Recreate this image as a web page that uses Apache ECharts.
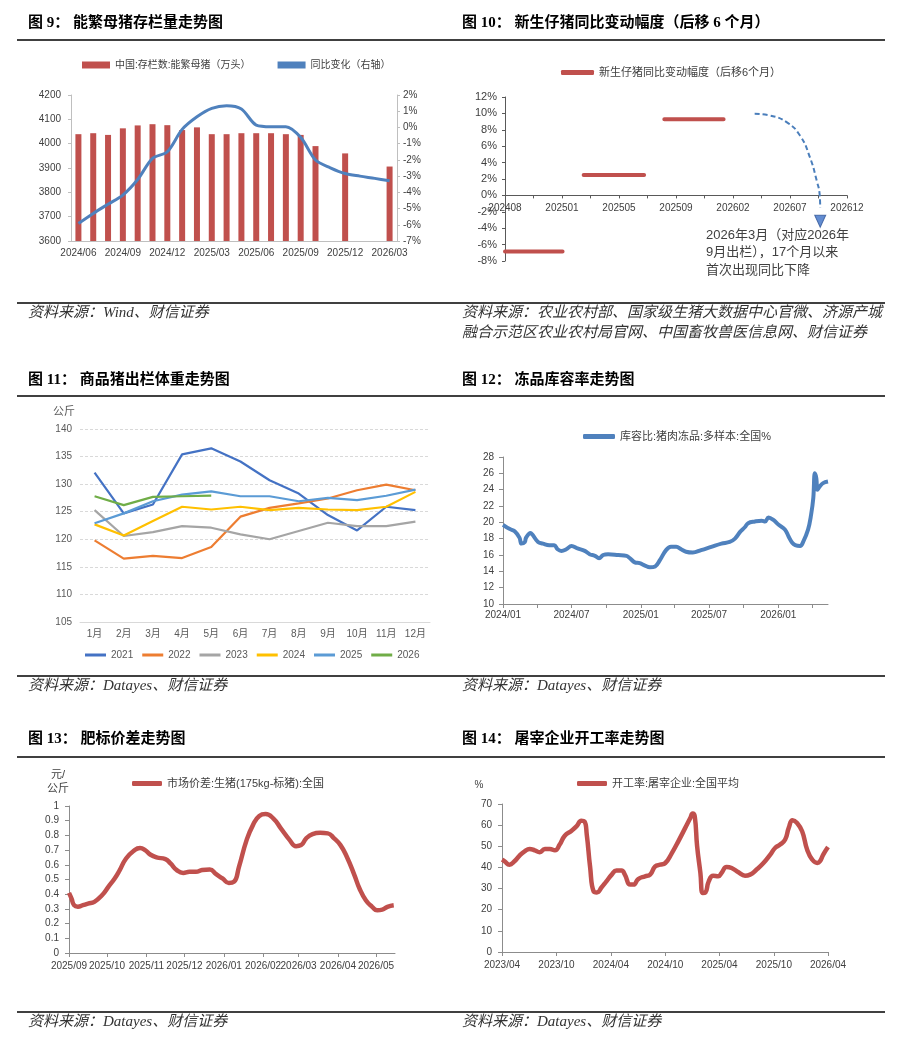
<!DOCTYPE html>
<html><head><meta charset="utf-8">
<script src="https://cdn.jsdelivr.net/npm/echarts@6/dist/echarts.min.js"></script>
<style>html,body{margin:0;padding:0;background:#fff}#c{width:903px;height:1050px}</style>
</head><body><div id="c"></div>
<script>
// ---------------- DATA ----------------
// Fig 9
const p9Months = ['2024/06','2024/07','2024/08','2024/09','2024/10','2024/11','2024/12','2025/01','2025/02','2025/03','2025/04','2025/05','2025/06','2025/07','2025/08','2025/09','2025/10','2025/11','2025/12','2026/01','2026/02','2026/03'];
const p9Sows = [4039,4043,4036,4063,4075,4080,4076,4056,4067,4039,4039,4043,4043,4043,4039,4036,3990,null,3960,null,null,3906];
const p9Yoy = [-5.92,-5.30,-4.73,-4.17,-3.21,-1.91,-1.50,-0.12,0.66,1.18,1.34,1.14,0.15,0.05,0.05,-0.61,-2.01,-2.49,-2.84,-3.00,-3.14,-3.29];
const p9Names = ['中国:存栏数:能繁母猪（万头）','同比变化（右轴）'];
// Fig 10
const p10TickLabels = ['202408','202501','202505','202509','202602','202607','202612'];
const p10SegStart = [0, 2.76, 5.59];
const p10SegEnd = [2.02, 4.88, 7.67];
const p10SegValue = [-6.85, 2.5, 9.3];
const p10ArcX = [8.76, 9.29, 9.88, 10.35, 10.7, 10.94, 11.04, 11.06];
const p10ArcY = [9.95, 9.75, 8.93, 7.3, 4.63, 1.76, 0.12, -1.52];
const p10Marker = [11.06, -3.15];
const p10Name = '新生仔猪同比变动幅度（后移6个月）';
const p10Note = ['2026年3月（对应2026年','9月出栏），17个月以来','首次出现同比下降'];
// Fig 11
const p11Months = ['1月','2月','3月','4月','5月','6月','7月','8月','9月','10月','11月','12月'];
const p11Years = ['2021','2022','2023','2024','2025','2026'];
const w2021 = [132.1,124.7,126.3,135.4,136.5,134.1,130.7,128.3,124.4,121.6,125.9,125.3];
const w2022 = [119.8,116.5,117.0,116.6,118.6,124.1,125.7,126.5,127.4,128.9,129.9,128.9];
const w2023 = [125.3,120.6,121.3,122.4,122.1,120.9,120.0,121.5,123.0,122.4,122.4,123.2];
const w2024 = [122.7,120.7,123.3,125.9,125.4,125.9,125.3,125.7,125.4,125.3,125.9,128.6];
const w2025 = [122.9,124.7,126.9,128.1,128.7,127.8,127.8,126.9,127.5,127.1,127.9,129.0];
const w2026 = [127.8,126.2,127.7,127.8,127.9];
// Fig 12
const p12Dates = ['2024-01-01','2024-01-18','2024-02-01','2024-02-14','2024-02-19','2024-02-28','2024-03-02','2024-03-14','2024-03-19','2024-04-03','2024-04-16','2024-05-03','2024-05-16','2024-05-25','2024-06-04','2024-06-17','2024-07-01','2024-07-17','2024-08-05','2024-08-18','2024-09-01','2024-09-12','2024-09-23','2024-10-06','2024-11-02','2024-11-24','2024-12-03','2024-12-16','2024-12-29','2025-01-12','2025-01-25','2025-02-08','2025-02-21','2025-03-09','2025-03-22','2025-04-05','2025-04-18','2025-05-01','2025-05-19','2025-06-10','2025-07-07','2025-08-03','2025-08-25','2025-09-08','2025-09-21','2025-10-04','2025-10-13','2025-10-31','2025-11-18','2025-11-27','2025-12-06','2025-12-19','2026-01-02','2026-01-19','2026-01-28','2026-02-07','2026-02-15','2026-02-28','2026-03-08','2026-03-21','2026-03-29','2026-04-04','2026-04-08','2026-04-12','2026-04-15','2026-04-21','2026-04-30','2026-05-13'];
const p12Values = [19.7,19.2,18.9,18.1,17.4,17.6,18.1,18.7,18.5,17.6,17.4,17.2,17.2,16.7,16.5,16.7,17.1,16.8,16.5,16.1,15.9,15.6,16.0,16.1,16.0,15.9,15.6,15.1,15.0,14.7,14.5,14.6,15.4,16.6,17.0,17.0,16.7,16.4,16.3,16.6,17.0,17.4,17.6,18.0,18.8,19.4,19.9,20.1,20.2,20.1,20.6,20.3,19.7,19.1,18.3,17.5,17.2,17.1,17.6,19.1,20.9,23.0,26.0,25.4,24.0,24.4,24.8,25.0];
const p12Name = '库容比:猪肉冻品:多样本:全国%';
const p12Labels = ['2024-01-01','2024-07-01','2025-01-01','2025-07-01','2026-01-01'];
const p12Ticks = ['2024-01-01','2024-04-01','2024-07-01','2024-10-01','2025-01-01','2025-04-01','2025-07-01','2025-10-01','2026-01-01','2026-04-01'];
// Fig 13
const p13Dates = ['2025-09-01','2025-09-03','2025-09-05','2025-09-08','2025-09-12','2025-09-16','2025-09-21','2025-09-27','2025-10-02','2025-10-07','2025-10-11','2025-10-16','2025-10-22','2025-10-27','2025-10-31','2025-11-04','2025-11-09','2025-11-16','2025-11-20','2025-11-25','2025-11-30','2025-12-05','2025-12-10','2025-12-15','2025-12-21','2025-12-26','2025-12-31','2026-01-05','2026-01-09','2026-01-13','2026-01-19','2026-01-24','2026-01-29','2026-02-03','2026-02-09','2026-02-15','2026-02-22','2026-02-27','2026-03-03','2026-03-07','2026-03-12','2026-03-18','2026-03-24','2026-03-29','2026-04-03','2026-04-08','2026-04-14','2026-04-18','2026-04-23','2026-04-28','2026-05-02','2026-05-06','2026-05-10','2026-05-15'];
const p13Values = [0.409,0.37,0.325,0.314,0.325,0.336,0.348,0.393,0.45,0.507,0.564,0.643,0.695,0.714,0.70,0.67,0.65,0.639,0.609,0.564,0.545,0.552,0.552,0.564,0.568,0.536,0.507,0.477,0.484,0.586,0.768,0.87,0.932,0.945,0.916,0.848,0.768,0.727,0.734,0.78,0.809,0.818,0.814,0.78,0.734,0.655,0.53,0.439,0.359,0.314,0.291,0.295,0.314,0.325];
const p13Name = '市场价差:生猪(175kg-标猪):全国';
const p13Ticks = ['2025-09-01','2025-10-01','2025-11-01','2025-12-01','2026-01-01','2026-02-01','2026-03-01','2026-04-01','2026-05-01'];
// Fig 14
const p14Dates = ['2023-04-01','2023-04-10','2023-04-26','2023-05-13','2023-05-30','2023-06-16','2023-07-03','2023-07-20','2023-08-06','2023-08-23','2023-09-09','2023-09-26','2023-10-12','2023-10-29','2023-11-21','2023-12-08','2023-12-24','2024-01-03','2024-01-11','2024-01-22','2024-02-03','2024-02-14','2024-03-01','2024-03-17','2024-04-04','2024-04-20','2024-05-07','2024-05-18','2024-06-05','2024-06-16','2024-07-02','2024-07-25','2024-08-11','2024-08-28','2024-09-14','2024-10-01','2024-10-23','2024-11-15','2024-12-07','2024-12-24','2025-01-01','2025-01-08','2025-01-16','2025-01-27','2025-02-04','2025-02-13','2025-02-24','2025-03-11','2025-03-28','2025-04-08','2025-04-25','2025-05-12','2025-06-04','2025-06-26','2025-07-13','2025-08-04','2025-08-27','2025-09-19','2025-10-05','2025-10-22','2025-11-08','2025-11-20','2025-12-03','2025-12-18','2026-01-04','2026-01-21','2026-02-07','2026-02-24','2026-03-05','2026-03-16','2026-04-01'];
const p14Values = [43.7,42.9,41.3,42.9,45.6,47.6,48.7,48.1,47.2,48.7,48.7,48.1,50.8,55.0,57.4,59.5,62.1,61.8,55.5,40.5,28.7,28.2,30.6,33.4,36.6,38.6,38.6,36.6,31.9,31.9,34.5,35.8,36.6,40.5,41.3,42.1,46.8,52.7,58.7,63.4,65.5,64.2,50.0,37.4,27.9,28.2,33.4,36.1,35.8,37.4,40.2,39.7,37.7,36.1,36.6,39.0,42.1,46.1,49.2,50.8,53.2,58.7,62.3,61.0,57.1,48.4,43.7,42.1,42.9,46.1,49.7];
const p14Name = '开工率:屠宰企业:全国平均';
const p14Ticks = ['2023-04-01','2023-10-01','2024-04-01','2024-10-01','2025-04-01','2025-10-01','2026-04-01'];
// Page text
const titles = [
  [28, 23, '图 9： 能繁母猪存栏量走势图'], [462, 23, '图 10： 新生仔猪同比变动幅度（后移 6 个月）'],
  [28, 380, '图 11： 商品猪出栏体重走势图'], [462, 380, '图 12： 冻品库容率走势图'],
  [28, 739, '图 13： 肥标价差走势图'], [462, 739, '图 14： 屠宰企业开工率走势图']
];
const sources = [
  [28, 313, '资料来源：Wind、财信证券'],
  [462, 313, '资料来源：农业农村部、国家级生猪大数据中心官微、济源产城'],
  [462, 333, '融合示范区农业农村局官网、中国畜牧兽医信息网、财信证券'],
  [28, 686, '资料来源：Datayes、财信证券'], [462, 686, '资料来源：Datayes、财信证券'],
  [28, 1022, '资料来源：Datayes、财信证券'], [462, 1022, '资料来源：Datayes、财信证券']
];
const ruleYs = [40, 303, 396, 676, 757, 1012];

// ---------------- HELPERS ----------------
const SANS = 'Arial, "Liberation Sans", "Noto Sans CJK SC", sans-serif';
const SERIF = '"Times New Roman", "Liberation Serif", "Noto Sans CJK SC", serif';
const RED = '#C0504D', BLUE = '#4F81BD';
function ts(s){ const a = s.split('-').map(Number); return Date.UTC(a[0], a[1]-1, a[2]); }
function ym(v){ const d = new Date(v); return d.getUTCFullYear() + '/' + String(d.getUTCMonth()+1).padStart(2,'0'); }
function pairs(dates, vals){ return dates.map((d,i)=>[ts(d), vals[i]]); }
const plain = (v)=>String(Math.round(v*1000)/1000);

const p10SegData = [];
p10SegStart.forEach((s,i)=>{
  p10SegData.push([s, p10SegValue[i]], [p10SegEnd[i], p10SegValue[i]]);
  if (i < p10SegStart.length-1) p10SegData.push([p10SegEnd[i], '-']);
});
const p10ArcData = p10ArcX.map((x,i)=>[x, p10ArcY[i]]);

// Fig 10 grid geometry: x axis sits at the y = 0 line
const p10Grid = {left:505, top:97, width:342, height:164};
const p10YMin = -8, p10YMax = 12;
const p10ZeroOffset = -p10Grid.height * (0 - p10YMin) / (p10YMax - p10YMin);

const lbl = (extra)=>Object.assign({fontSize:10, color:'#404040', fontFamily:SANS}, extra||{});
const axLine = (c)=>({show:true, onZero:false, lineStyle:{color:c, width:1}});

// ---------------- GRAPHICS (titles, rules, sources, notes) ----------------
const graphic = [];
ruleYs.forEach(y=>graphic.push({type:'line', shape:{x1:17,y1:y,x2:885,y2:y}, style:{stroke:'#404040', lineWidth:2}, silent:true}));
titles.forEach(t=>graphic.push({type:'text', x:t[0], y:t[1], style:{text:t[2], fill:'#000', font:'bold 15px ' + SERIF, verticalAlign:'middle'}, silent:true}));
sources.forEach(t=>graphic.push({type:'text', x:t[0], y:t[1], style:{text:t[2], fill:'#333', font:'italic 15px ' + SERIF, verticalAlign:'middle'}, silent:true}));
p10Note.forEach((t,i)=>graphic.push({type:'text', x:706, y:235 + i*17.5, style:{text:t, fill:'#404040', font:'13px ' + SANS, verticalAlign:'middle'}, silent:true}));
[[64,412,'公斤',11,'center','#595959'],[58,775,'元/',11,'center','#404040'],[58,789,'公斤',11,'center','#404040'],[479,785,'%',10,'center','#404040']]
  .forEach(t=>graphic.push({type:'text', x:t[0], y:t[1], style:{text:t[2], fill:t[5], font:t[3]+'px '+SANS, align:t[4], verticalAlign:'middle'}, silent:true}));

// ---------------- OPTION ----------------
const leg = (o)=>Object.assign({padding:0, itemGap:27, icon:'rect', textStyle:{fontSize:11, color:'#404040', fontFamily:SANS}, selectedMode:false}, o);

const option = {
  animation:false,
  backgroundColor:'#fff',
  textStyle:{fontFamily:SANS},
  graphic: graphic,
  legend:[
    leg({data:p9Names, left:82, top:60, itemWidth:28, itemHeight:7, itemGap:27, textStyle:{fontSize:10, color:'#404040', fontFamily:SANS}}),
    leg({data:[p10Name], left:561, top:67, itemWidth:33, itemHeight:5, icon:'roundRect'}),
    leg({data:p11Years, left:85, top:650, itemWidth:21, itemHeight:3, itemGap:9, textStyle:{fontSize:10, color:'#595959', fontFamily:SANS}}),
    leg({data:[p12Name], left:583, top:431, itemWidth:32, itemHeight:5, icon:'roundRect'}),
    leg({data:[p13Name], left:132, top:778, itemWidth:30, itemHeight:5, icon:'roundRect'}),
    leg({data:[p14Name], left:577, top:778, itemWidth:30, itemHeight:5, icon:'roundRect'})
  ],
  grid:[
    {left:71, top:95, width:326, height:146},
    p10Grid,
    {left:80, top:429, width:350, height:193},
    {left:503, top:457, width:325, height:147},
    {left:69, top:806, width:326, height:147},
    {left:502, top:804, width:326, height:148}
  ],
  xAxis:[
    {gridIndex:0, type:'category', data:p9Months, boundaryGap:true, axisLine:axLine('#bfbfbf'), axisTick:{show:false},
      axisLabel:lbl({interval:2, margin:7}), splitLine:{show:false}},
    {gridIndex:1, type:'value', min:0, max:12, interval:1, position:'bottom', offset:p10ZeroOffset,
      axisLine:{show:true, onZero:false, lineStyle:{color:'#595959'}},
      axisTick:{show:true, length:3, lineStyle:{color:'#595959'}},
      axisLabel:lbl({margin:8, formatter:(v)=> (v % 2 === 0 ? p10TickLabels[v/2] : '')}), splitLine:{show:false}},
    {gridIndex:2, type:'category', data:p11Months, boundaryGap:true, axisLine:axLine('#d9d9d9'), axisTick:{show:false},
      axisLabel:lbl({color:'#595959', margin:7}), splitLine:{show:false}},
    {gridIndex:3, type:'value', min:ts('2024-01-01'), max:ts('2026-05-13'), axisLine:axLine('#8c8c8c'),
      axisTick:{show:true, length:4, lineStyle:{color:'#8c8c8c'}, customValues:p12Ticks.map(ts)},
      axisLabel:lbl({margin:6, customValues:p12Labels.map(ts), formatter:ym}), splitLine:{show:false}},
    {gridIndex:4, type:'value', min:ts('2025-09-01'), max:ts('2026-05-16'), axisLine:axLine('#8c8c8c'),
      axisTick:{show:true, length:4, lineStyle:{color:'#8c8c8c'}, customValues:p13Ticks.map(ts)},
      axisLabel:lbl({margin:8, customValues:p13Ticks.map(ts), formatter:ym}), splitLine:{show:false}},
    {gridIndex:5, type:'value', min:ts('2023-04-01'), max:ts('2026-04-01'), axisLine:axLine('#8c8c8c'),
      axisTick:{show:true, length:4, lineStyle:{color:'#8c8c8c'}, customValues:p14Ticks.map(ts)},
      axisLabel:lbl({margin:8, customValues:p14Ticks.map(ts), formatter:ym}), splitLine:{show:false}}
  ],
  yAxis:[
    {gridIndex:0, type:'value', min:3600, max:4200, interval:100, position:'left', axisLine:axLine('#bfbfbf'),
      axisTick:{show:true, length:3, lineStyle:{color:'#bfbfbf'}}, axisLabel:lbl({margin:10, formatter:plain}), splitLine:{show:false}},
    {gridIndex:0, type:'value', min:-7, max:2, interval:1, position:'right', axisLine:axLine('#bfbfbf'),
      axisTick:{show:true, length:3, lineStyle:{color:'#bfbfbf'}}, axisLabel:lbl({margin:6, formatter:'{value}%'}), splitLine:{show:false}},
    {gridIndex:1, type:'value', min:p10YMin, max:p10YMax, interval:2, axisLine:{show:true, onZero:false, lineStyle:{color:'#595959'}},
      axisTick:{show:true, length:3, lineStyle:{color:'#595959'}}, axisLabel:lbl({fontSize:11, margin:8, formatter:'{value}%'}), splitLine:{show:false}},
    {gridIndex:2, type:'value', min:105, max:140, interval:5, axisLine:{show:false}, axisTick:{show:false},
      axisLabel:lbl({color:'#595959', margin:8}), splitLine:{show:true, lineStyle:{color:'#d9d9d9', type:[3,2], width:1}}},
    {gridIndex:3, type:'value', min:10, max:28, interval:2, axisLine:axLine('#8c8c8c'),
      axisTick:{show:true, length:4, lineStyle:{color:'#8c8c8c'}}, axisLabel:lbl({margin:9}), splitLine:{show:false}},
    {gridIndex:4, type:'value', min:0, max:1, interval:0.1, axisLine:axLine('#8c8c8c'),
      axisTick:{show:true, length:4, lineStyle:{color:'#8c8c8c'}}, axisLabel:lbl({margin:10, formatter:plain}), splitLine:{show:false}},
    {gridIndex:5, type:'value', min:0, max:70, interval:10, axisLine:axLine('#8c8c8c'),
      axisTick:{show:true, length:4, lineStyle:{color:'#8c8c8c'}}, axisLabel:lbl({margin:10}), splitLine:{show:false}}
  ],
  series:[
    {name:p9Names[0], type:'bar', xAxisIndex:0, yAxisIndex:0, data:p9Sows, barWidth:6, itemStyle:{color:RED}, silent:true},
    {name:p9Names[1], type:'line', xAxisIndex:0, yAxisIndex:1, data:p9Yoy, smooth:0.3, showSymbol:false,
      lineStyle:{width:3, color:BLUE}, itemStyle:{color:BLUE}, silent:true},
    {name:p10Name, type:'line', xAxisIndex:1, yAxisIndex:2, data:p10SegData, showSymbol:false, connectNulls:false,
      lineStyle:{width:4, color:RED, cap:'round'}, itemStyle:{color:RED}, silent:true},
    {name:'arc', type:'line', xAxisIndex:1, yAxisIndex:2, data:p10ArcData, smooth:0.5, showSymbol:false,
      lineStyle:{width:2, color:'#4A7EBB', type:[5,3]}, silent:true},
    {name:'marker', type:'scatter', xAxisIndex:1, yAxisIndex:2, data:[p10Marker], symbol:'triangle', symbolRotate:180, symbolSize:[11,12],
      itemStyle:{color:'#3B6FC6', borderColor:'#2F5597', borderWidth:1}, silent:true},
    ...[w2021,w2022,w2023,w2024,w2025,w2026].map((d,i)=>({
      name:p11Years[i], type:'line', xAxisIndex:2, yAxisIndex:3, data:d, showSymbol:false,
      lineStyle:{width:2.2, color:['#4472C4','#ED7D31','#A5A5A5','#FFC000','#5B9BD5','#70AD47'][i]},
      itemStyle:{color:['#4472C4','#ED7D31','#A5A5A5','#FFC000','#5B9BD5','#70AD47'][i]}, silent:true})),
    {name:p12Name, type:'line', xAxisIndex:3, yAxisIndex:4, data:pairs(p12Dates,p12Values), smooth:0.4, showSymbol:false,
      lineStyle:{width:4, color:BLUE}, itemStyle:{color:BLUE}, silent:true},
    {name:p13Name, type:'line', xAxisIndex:4, yAxisIndex:5, data:pairs(p13Dates,p13Values), smooth:0.5, showSymbol:false,
      lineStyle:{width:4.5, color:RED}, itemStyle:{color:RED}, silent:true},
    {name:p14Name, type:'line', xAxisIndex:5, yAxisIndex:6, data:pairs(p14Dates,p14Values), smooth:0.5, showSymbol:false,
      lineStyle:{width:4.5, color:RED}, itemStyle:{color:RED}, silent:true}
  ]
};
const chart = echarts.init(document.getElementById('c'), null, {renderer:'canvas'});
chart.setOption(option);
</script></body></html>
